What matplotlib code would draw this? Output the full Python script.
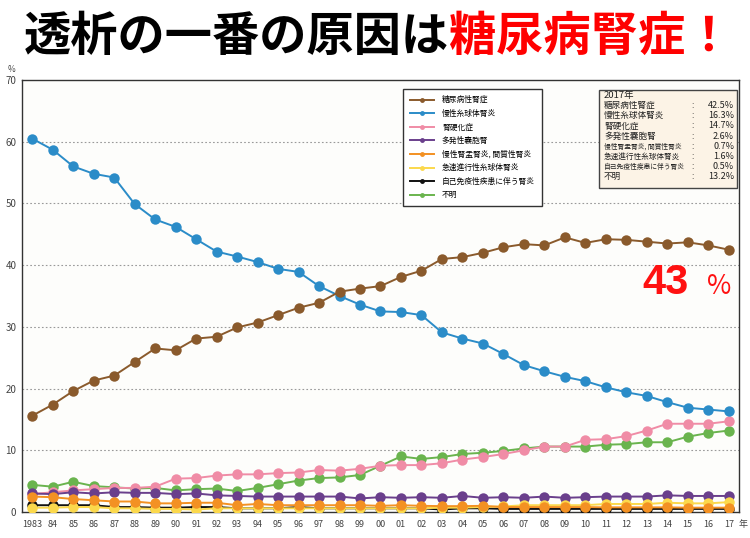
import matplotlib
matplotlib.use('Agg')
import matplotlib.pyplot as plt
from matplotlib.patches import Rectangle
from matplotlib.lines import Line2D
import numpy as np

plt.rcParams['font.family'] = ['Noto Sans CJK JP', 'DejaVu Sans']

years = list(range(1983, 2018))
year_labels = ['1983'] + ['%02d' % (y % 100) for y in years[1:]]

diabetic = [15.6, 17.4, 19.6, 21.3, 22.1, 24.3, 26.5, 26.2, 28.1, 28.4, 29.9, 30.7,
            31.9, 33.1, 33.9, 35.7, 36.2, 36.6, 38.1, 39.1, 41.0, 41.3, 42.0, 42.9,
            43.4, 43.2, 44.5, 43.6, 44.2, 44.1, 43.8, 43.5, 43.7, 43.2, 42.5]
glomerular = [60.5, 58.7, 56.0, 54.8, 54.2, 49.9, 47.4, 46.2, 44.2, 42.2, 41.4, 40.5,
              39.4, 38.9, 36.6, 35.0, 33.6, 32.5, 32.4, 31.9, 29.1, 28.1, 27.3, 25.6,
              23.8, 22.8, 21.9, 21.2, 20.2, 19.4, 18.8, 17.8, 16.9, 16.6, 16.3]
sclerosis = [2.9, 3.2, 3.5, 3.7, 3.9, 3.9, 4.1, 5.4, 5.5, 5.9, 6.1, 6.1,
             6.3, 6.4, 6.8, 6.7, 7.0, 7.5, 7.6, 7.6, 7.9, 8.5, 8.9, 9.4,
             10.0, 10.6, 10.6, 11.7, 11.8, 12.3, 13.2, 14.3, 14.3, 14.3, 14.7]
polycystic = [3.0, 2.9, 3.2, 3.0, 3.2, 3.1, 3.1, 2.9, 3.0, 2.7, 2.6, 2.5,
              2.5, 2.5, 2.5, 2.5, 2.2, 2.4, 2.3, 2.4, 2.3, 2.6, 2.3, 2.4,
              2.3, 2.5, 2.3, 2.4, 2.5, 2.5, 2.5, 2.7, 2.6, 2.6, 2.6]
pyelo = [2.5, 2.4, 2.1, 1.9, 1.7, 1.7, 1.4, 1.4, 1.5, 1.5, 1.1, 1.3,
         1.1, 1.1, 1.1, 1.1, 1.1, 1.0, 1.1, 1.0, 0.95, 0.95, 1.0, 0.8,
         0.8, 0.8, 0.8, 0.8, 0.75, 0.75, 0.75, 0.75, 0.7, 0.7, 0.7]
rpgn = [0.7, 0.7, 0.8, 0.8, 0.6, 0.6, 0.5, 0.5, 0.4, 0.6, 0.6, 0.6,
        0.6, 0.6, 0.6, 0.6, 0.6, 0.6, 0.6, 0.6, 0.7, 0.7, 0.8, 0.9,
        1.1, 1.1, 1.1, 1.1, 1.3, 1.3, 1.3, 1.5, 1.4, 1.4, 1.6]
autoimmune = [1.1, 1.1, 1.1, 1.1, 0.8, 0.8, 0.7, 0.7, 0.8, 0.8, 0.6, 0.6,
              0.6, 0.8, 0.6, 0.6, 0.6, 0.6, 0.6, 0.6, 0.4, 0.6, 0.6, 0.5,
              0.5, 0.5, 0.5, 0.5, 0.5, 0.5, 0.5, 0.5, 0.5, 0.5, 0.5]
unknown = [4.4, 4.1, 4.9, 4.2, 4.0, 3.8, 3.9, 3.5, 3.7, 3.8, 3.4, 3.9,
           4.5, 5.1, 5.5, 5.6, 6.0, 7.5, 9.0, 8.6, 8.9, 9.4, 9.6, 9.9,
           10.3, 10.6, 10.6, 10.6, 10.9, 11.0, 11.3, 11.3, 12.2, 12.8, 13.2]

names = ['糖尿病性腎症', '慢性糸球体腎炎', '腎硬化症', '多発性嚢胞腎',
         '慢性腎盂腎炎, 間質性腎炎', '急速進行性糸球体腎炎', '自己免疫性疾患に伴う腎炎', '不明']
values_2017 = ['42.5%', '16.3%', '14.7%', '2.6%', '0.7%', '1.6%', '0.5%', '13.2%']
colors = ['#8a5a2c', '#2b8cc8', '#f08ca6', '#6a3f8c', '#f39123', '#fbd84c', '#111111', '#6ab44e']
series = [diabetic, glomerular, sclerosis, polycystic, pyelo, rpgn, autoimmune, unknown]
draw_order = [7, 2, 1, 0, 3, 6, 5, 4]

fig = plt.figure(figsize=(7.5, 5.38), dpi=100)
ax = fig.add_axes([22 / 750, 1 - 512 / 538, (739 - 22) / 750, (512 - 80) / 538])
ax.set_facecolor('#fdfdfb')

x = np.arange(len(years))
for n, i in enumerate(draw_order):
    ax.plot(x, series[i], color=colors[i], lw=1.4, marker='o', ms=7.5,
            markeredgewidth=0, zorder=3 + n)

ax.set_xlim(-0.5, len(years) - 0.5)
ax.set_ylim(0, 70)
ax.set_yticks(range(0, 71, 10))
ax.set_xticks(x)
ax.set_xticklabels(year_labels, fontsize=6.5, color='#444444')
ax.tick_params(axis='x', length=3, direction='in', pad=6)
ax.tick_params(axis='y', length=0, labelsize=7, labelcolor='#444444', pad=4)
for y in range(10, 70, 10):
    ax.axhline(y, color='#999999', lw=0.8, ls=(0, (1.5, 2)), zorder=1)
for s in ax.spines.values():
    s.set_color('#333333')
    s.set_linewidth(1.0)

fig.text(12 / 750, 1 - 70 / 538, '%', fontsize=6, color='#444444', ha='center', va='center')
fig.text(743 / 750, 1 - 525 / 538, '年', fontsize=6.5, color='#444444', ha='center', va='center')

# legend
handles = [Line2D([0], [0], color=colors[i], lw=1.4, marker='o', ms=3.5, markeredgewidth=0)
           for i in range(8)]
leg = ax.legend(handles, names, loc='upper left', bbox_to_anchor=(403 / 750, 1 - 89 / 538),
                bbox_transform=fig.transFigure, fontsize=5.6, handlelength=3.1,
                labelspacing=0.7, borderpad=0.9, handletextpad=1.0, borderaxespad=0,
                fancybox=False, framealpha=1, edgecolor='#333333')
leg.get_frame().set_linewidth(1.0)
leg.set_zorder(20)

# 2017 box
box = Rectangle((599 / 750, 1 - 188 / 538), (737 - 599) / 750, (188 - 90) / 538,
                transform=fig.transFigure, facecolor='#fcf3e6', edgecolor='#444444',
                lw=1.0, zorder=20)
fig.patches.append(box)
name_sizes = [6.2, 6.2, 6.2, 6.2, 4.9, 5.5, 4.9, 6.2]
fig.text(604 / 750, 1 - 95.5 / 538, '2017年', fontsize=6.8, color='#222222', va='center', zorder=25)
for k in range(8):
    yy = 1 - (105.5 + k * 10.2) / 538
    fig.text(604 / 750, yy, names[k], fontsize=name_sizes[k], color='#222222', va='center', zorder=25)
    fig.text(691 / 750, yy, ':', fontsize=6, color='#222222', va='center', zorder=25)
    fig.text(734 / 750, yy, values_2017[k], fontsize=6.5, color='#222222', va='center',
             ha='right', zorder=25)

# big red label
fig.text(642 / 750, 1 - 283 / 538, '43', fontsize=30, color='#ff1111', fontweight='bold',
         va='center', ha='left', family=['Liberation Sans', 'DejaVu Sans'])
fig.text(719 / 750, 1 - 287 / 538, '%', fontsize=19, color='#ff1111',
         va='center', ha='center', family=['Noto Sans CJK JP', 'DejaVu Sans'])

# title
t1 = fig.text(24 / 750, 1 - 37 / 538, '透析の一番の原因は', fontsize=34, fontweight='bold',
              color='black', va='center', ha='left')
fig.canvas.draw()
bb = t1.get_window_extent()
fig.text(bb.x1 / 750, 1 - 37 / 538, '糖尿病腎症！', fontsize=34, fontweight='bold',
         color='#ff0000', va='center', ha='left')

fig.savefig('out.png', dpi=100)
